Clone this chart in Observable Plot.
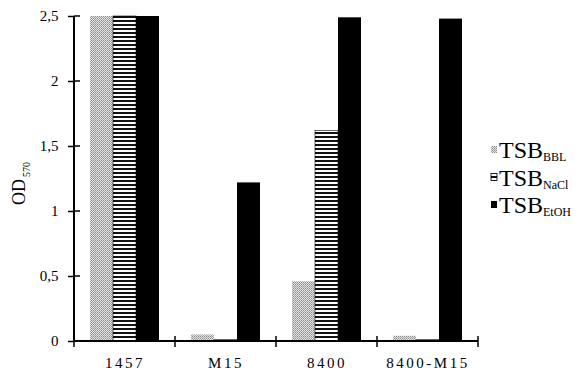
<!DOCTYPE html>
<html>
<head>
<meta charset="utf-8">
<script src="https://cdn.jsdelivr.net/npm/d3@7"></script>
<script src="https://cdn.jsdelivr.net/npm/@observablehq/plot@0.6"></script>
<style>
  html, body { margin: 0; padding: 0; background: #fff; }
  #chart { width: 583px; height: 374px; }
</style>
</head>
<body>
<div id="chart"></div>
<script>
const categories = ["1457", "M15", "8400", "8400-M15"];
const series = ["BBL", "NaCl", "EtOH"];
const bblValues = [2.5, 0.05, 0.46, 0.04];
const naclValues = [2.5, 0.01, 1.62, 0.01];
const etohValues = [2.5, 1.22, 2.49, 2.48];
const yTicks = [0, 0.5, 1, 1.5, 2, 2.5];
const legendLabels = ["BBL", "NaCl", "EtOH"];

const valuesBySeries = {BBL: bblValues, NaCl: naclValues, EtOH: etohValues};
const data = [];
categories.forEach((c, i) => {
  series.forEach(s => data.push({category: c, series: s, value: valuesBySeries[s][i]}));
});

const serif = "'Liberation Serif', 'DejaVu Serif', serif";

const plot = Plot.plot({
  width: 583,
  height: 374,
  marginLeft: 73,
  marginRight: 105,
  marginTop: 16,
  marginBottom: 33,
  style: {fontFamily: serif, fontSize: "15px", color: "#000", background: "#fff"},
  fx: {domain: categories, padding: 0, label: null},
  x: {domain: series, paddingInner: 0, paddingOuter: 0.65, axis: null},
  y: {domain: [0, 2.5], label: null},
  color: {domain: series, range: ["url(#pat-bbl)", "url(#pat-nacl)", "#000"]},
  marks: [
    Plot.barY(data, {fx: "category", x: "series", y: "value", fill: "series"}),
    Plot.barY(data.filter(d => d.series === "NaCl"), {fx: "category", x: "series", y: "value", fill: "none", stroke: "#000", strokeWidth: 0.6}),
    Plot.axisY({ticks: yTicks, tickSize: 6, tickPadding: 10, strokeWidth: 1.5, tickFormat: d => String(d).replace(".", ","), label: null}),
    Plot.axisFx({anchor: "bottom", tickSize: 0, tickPadding: 16, label: null})
  ]
});
document.getElementById("chart").appendChild(plot);

const svg = d3.select(plot);
const defs = svg.insert("defs", ":first-child");
const pb = defs.append("pattern").attr("id", "pat-bbl").attr("patternUnits", "userSpaceOnUse").attr("width", 2).attr("height", 2);
pb.append("rect").attr("width", 2).attr("height", 2).attr("fill", "#e2e2e2");
pb.append("rect").attr("width", 1).attr("height", 1).attr("fill", "#8a8a8a");
pb.append("rect").attr("x", 1).attr("y", 1).attr("width", 1).attr("height", 1).attr("fill", "#a8a8a8");
const pn = defs.append("pattern").attr("id", "pat-nacl").attr("patternUnits", "userSpaceOnUse").attr("width", 4).attr("height", 4);
pn.append("rect").attr("width", 4).attr("height", 4).attr("fill", "#fff");
pn.append("rect").attr("width", 4).attr("height", 2).attr("fill", "#111");

// letter spacing on category labels
svg.selectAll('g[aria-label="fx-axis tick label"] text').attr("letter-spacing", "2.5px");

// axis lines and extra tick marks from the library's scales
const fx = plot.scale("fx");
const y = plot.scale("y");
const y0 = y.apply(0);
const yTop = y.apply(2.5);
const bw = fx.bandwidth;
const xLeft = fx.apply(categories[0]);
const xRight = fx.apply(categories[categories.length - 1]) + bw;
const edges = categories.map(c => fx.apply(c)).concat([xRight]);
const g = svg.append("g").attr("stroke", "#000").attr("stroke-width", 1.5);
g.append("line").attr("x1", xLeft).attr("x2", xLeft).attr("y1", yTop).attr("y2", y0 + 1).attr("stroke-width", 2);
g.append("line").attr("x1", xLeft - 1).attr("x2", xRight).attr("y1", y0).attr("y2", y0).attr("stroke-width", 2);
edges.forEach(xe => {
  g.append("line").attr("x1", xe).attr("x2", xe).attr("y1", y0 - 5).attr("y2", y0 + 6);
});
yTicks.forEach(t => {
  const yy = y.apply(t);
  g.append("line").attr("x1", xLeft).attr("x2", xLeft + 6).attr("y1", yy).attr("y2", yy);
});

// y-axis title with subscript
const yl = svg.append("text")
  .attr("transform", "translate(25,205) rotate(-90)")
  .attr("text-anchor", "start")
  .attr("font-family", serif).attr("fill", "#000");
yl.append("tspan").attr("font-size", "18px").text("OD");
yl.append("tspan").attr("font-size", "10px").attr("dy", "5").attr("dx", "2").text("570");

// legend
const lg = svg.append("g").attr("font-family", serif).attr("text-anchor", "start");
const swatchFill = ["url(#pat-bbl)", "url(#pat-nacl)", "#000"];
legendLabels.forEach((lab, i) => {
  const by = 158 + i * 27.5;
  lg.append("rect").attr("x", 491).attr("y", by - 12).attr("width", 6).attr("height", 7)
    .attr("fill", swatchFill[i]).attr("stroke", i === 1 ? "#000" : "none").attr("stroke-width", 0.8);
  const t = lg.append("text").attr("x", 499).attr("y", by).attr("fill", "#000");
  t.append("tspan").attr("font-size", "24px").text("TSB");
  t.append("tspan").attr("font-size", "12px").attr("dy", "3").text(lab);
});
</script>
</body>
</html>
